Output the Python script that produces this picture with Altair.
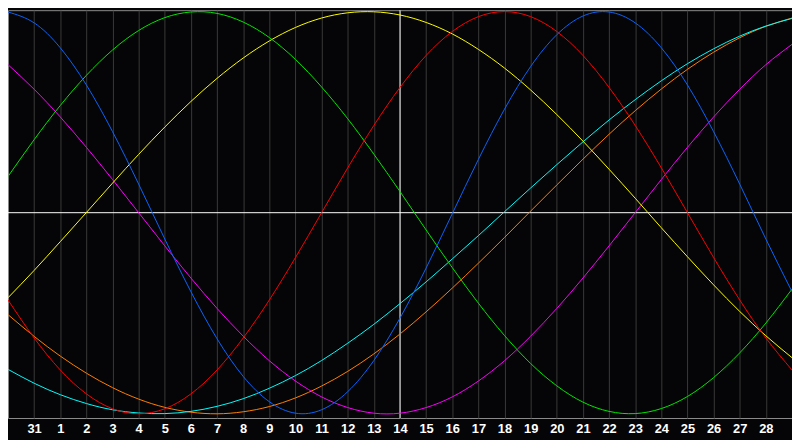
import json
import altair as alt
import pandas as pd

# day index 0..30 (0 = day 30 of previous month)
days = list(range(31))
tick_positions = list(range(1, 30))
tick_labels = ["31"] + [str(d) for d in range(1, 29)]

blue = [0.998, 0.944, 0.820, 0.635, 0.403, 0.142, -0.131, -0.393, -0.627, -0.814,
        -0.940, -0.997, -0.980, -0.890, -0.735, -0.524, -0.275, -0.005, 0.265, 0.515,
        0.727, 0.885, 0.978, 0.998, 0.944, 0.820, 0.635, 0.403, 0.142, -0.131, -0.393]
red = [-0.434, -0.623, -0.782, -0.901, -0.975, -1.000, -0.975, -0.901, -0.782, -0.623,
       -0.434, -0.223, 0.000, 0.223, 0.434, 0.623, 0.782, 0.901, 0.975, 1.000,
       0.975, 0.901, 0.782, 0.623, 0.434, 0.223, 0.000, -0.223, -0.434, -0.623, -0.782]
green = [0.180, 0.363, 0.533, 0.683, 0.809, 0.906, 0.970, 0.998, 0.991, 0.948,
         0.871, 0.762, 0.625, 0.467, 0.291, 0.105, -0.086, -0.273, -0.450, -0.611,
         -0.750, -0.861, -0.942, -0.988, -0.999, -0.974, -0.914, -0.820, -0.697, -0.549, -0.380]
yellow = [-0.423, -0.287, -0.144, 0.001, 0.147, 0.290, 0.426, 0.553, 0.668, 0.769,
          0.854, 0.921, 0.968, 0.994, 0.999, 0.983, 0.946, 0.889, 0.812, 0.719,
          0.610, 0.488, 0.356, 0.216, 0.072, -0.075, -0.219, -0.359, -0.491, -0.612, -0.721]
magenta = [0.736, 0.614, 0.476, 0.325, 0.165, 0.000, -0.165, -0.325, -0.476, -0.614,
           -0.736, -0.837, -0.916, -0.969, -0.997, -0.997, -0.969, -0.916, -0.837, -0.736,
           -0.614, -0.476, -0.325, -0.165, 0.000, 0.165, 0.325, 0.476, 0.614, 0.736, 0.837]
cyan = [-0.779, -0.848, -0.905, -0.949, -0.980, -0.996, -0.999, -0.988, -0.963, -0.925,
        -0.873, -0.810, -0.735, -0.649, -0.555, -0.452, -0.344, -0.230, -0.114, 0.005,
        0.123, 0.239, 0.352, 0.461, 0.562, 0.656, 0.741, 0.815, 0.878, 0.928, 0.966]
orange = [-0.507, -0.615, -0.713, -0.798, -0.870, -0.927, -0.968, -0.992, -1.000, -0.990,
          -0.964, -0.921, -0.862, -0.789, -0.702, -0.603, -0.493, -0.375, -0.251, -0.123,
          0.008, 0.138, 0.266, 0.390, 0.507, 0.615, 0.713, 0.798, 0.870, 0.927, 0.968]

series_names = ["orange", "cyan", "magenta", "yellow", "green", "red", "blue"]
series_values = [orange, cyan, magenta, yellow, green, red, blue]
series_colors = ["#ff8000", "#00ffff", "#ff00ff", "#ffff00", "#00e800", "#ff0000", "#0a64ff"]

rows = []
for name, vals in zip(series_names, series_values):
    for t, v in zip(days, vals):
        rows.append({"t": t, "v": v, "s": name})
df = pd.DataFrame(rows)

today = 15
xscale = alt.Scale(domain=[0, 30], nice=False, zero=False)
yscale = alt.Scale(domain=[-1.021, 1.007], nice=False, zero=False)

label_expr = json.dumps(tick_labels) + "[datum.value - 1]"

xaxis = alt.Axis(
    values=tick_positions, labelExpr=label_expr, grid=True, gridColor="#3a3a3a",
    gridWidth=1, ticks=False, domain=False, title=None, labelColor="white",
    labelFont="Liberation Sans", labelFontWeight="bold", labelFontSize=13,
    labelPadding=5, labelFlush=False, labelAngle=0,
)

lines = alt.Chart(df).mark_line(strokeWidth=1, interpolate="natural", clip=True).encode(
    x=alt.X("t:Q", scale=xscale, axis=xaxis),
    y=alt.Y("v:Q", scale=yscale, axis=None),
    color=alt.Color("s:N", scale=alt.Scale(domain=series_names, range=series_colors), legend=None),
    order=alt.Order("t:Q"),
)

hline = alt.Chart(pd.DataFrame({"v": [0.0]})).mark_rule(color="white", strokeWidth=1).encode(
    y=alt.Y("v:Q", scale=yscale, axis=None)
)
vline = alt.Chart(pd.DataFrame({"t": [today]})).mark_rule(color="white", strokeWidth=1).encode(
    x=alt.X("t:Q", scale=xscale, axis=xaxis)
)

chart = alt.layer(hline, vline, lines).properties(
    width=792, height=412,
    autosize=alt.AutoSizeParams(type="none"),
    padding={"left": 0, "top": 0, "right": 0, "bottom": 20},
    background="#050507",
).configure_view(stroke="#8c8c8c", strokeWidth=1)

chart.save("out.html", embed_options={"renderer": "svg", "actions": False})
